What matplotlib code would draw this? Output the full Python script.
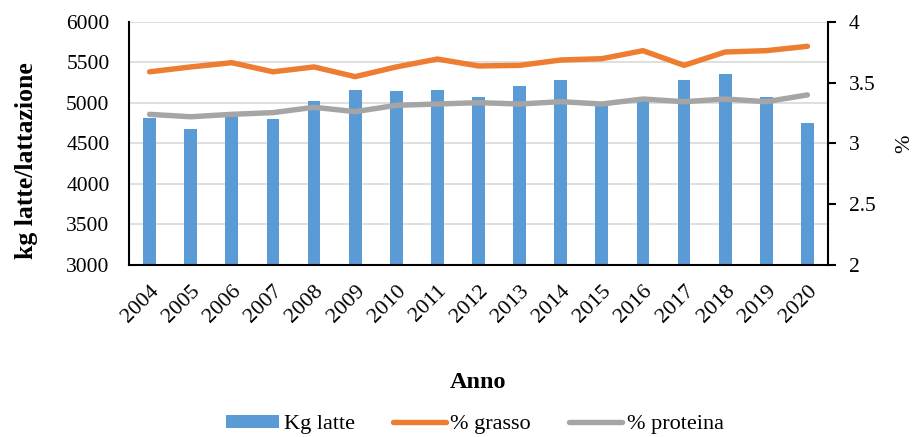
import matplotlib
matplotlib.use("Agg")
import matplotlib.pyplot as plt
import numpy as np

years = ["2004", "2005", "2006", "2007", "2008", "2009", "2010", "2011", "2012",
         "2013", "2014", "2015", "2016", "2017", "2018", "2019", "2020"]
kg_latte = [4815, 4675, 4850, 4802, 5025, 5165, 5150, 5165, 5070,
            5214, 5280, 4995, 5066, 5280, 5358, 5070, 4753]
grasso = [3.59, 3.63, 3.665, 3.59, 3.63, 3.55, 3.63, 3.695, 3.638,
          3.643, 3.687, 3.698, 3.764, 3.643, 3.753, 3.764, 3.80]
proteina = [3.24, 3.22, 3.24, 3.254, 3.298, 3.262, 3.314, 3.325, 3.336,
            3.325, 3.344, 3.325, 3.366, 3.344, 3.366, 3.344, 3.40]

plt.rcParams["font.family"] = ["Liberation Serif", "DejaVu Serif"]

fig = plt.figure(figsize=(9.13, 4.37), dpi=100)
ax = fig.add_axes([0.1413, 0.3936, 0.7656, 0.5561])
x = np.arange(len(years))

ax.bar(x, kg_latte, width=0.31, color="#5B9BD5", label="Kg latte", zorder=2)
ax.set_ylim(3000, 6000)
ax.set_yticks(np.arange(3000, 6001, 500))
ax.set_xlim(-0.5, len(years) - 0.5)
ax.grid(axis="y", color="#D9D9D9", linewidth=1.2, zorder=0)
ax.set_axisbelow(True)
ax.set_xticks(x)
ax.set_xticklabels(years, rotation=45, ha="right", rotation_mode="anchor", fontsize=16)
ax.tick_params(axis="x", length=0, pad=12)
ax.tick_params(axis="y", length=0, labelsize=15.5, pad=14)
for s in ["top", "right"]:
    ax.spines[s].set_visible(False)
ax.spines["left"].set_linewidth(1.5)
ax.spines["bottom"].set_linewidth(1.5)
ax.set_ylabel("kg latte/lattazione", fontsize=18.5, fontweight="bold")
ax.yaxis.set_label_coords(-0.13, 0.428)
ax.set_xlabel("Anno", fontsize=17.5, fontweight="bold", labelpad=33)

ax2 = ax.twinx()
ax2.plot(x, grasso, color="#ED7D31", linewidth=3.9, label="% grasso",
         solid_capstyle="round", zorder=3)
ax2.plot(x, proteina, color="#A5A5A5", linewidth=3.9, label="% proteina",
         solid_capstyle="round", zorder=3)
ax2.set_ylim(2, 4)
ax2.set_yticks([2, 2.5, 3, 3.5, 4])
ax2.set_yticklabels(["2", "2.5", "3", "3.5", "4"])
ax2.tick_params(axis="y", direction="out", length=6, width=1.5, labelsize=15.5, pad=9)
for s in ["top", "left", "bottom"]:
    ax2.spines[s].set_visible(False)
ax2.spines["right"].set_linewidth(1.5)
ax2.set_ylabel("%", fontsize=16, labelpad=14)

h1, l1 = ax.get_legend_handles_labels()
h2, l2 = ax2.get_legend_handles_labels()
fig.legend(h1 + h2, l1 + l2, loc="lower center", bbox_to_anchor=(0.52, -0.04),
           ncol=3, frameon=False, fontsize=16, handlelength=2.4, handleheight=0.55,
           columnspacing=1.7, handletextpad=0.2)

fig.savefig("out.png", dpi=100)
